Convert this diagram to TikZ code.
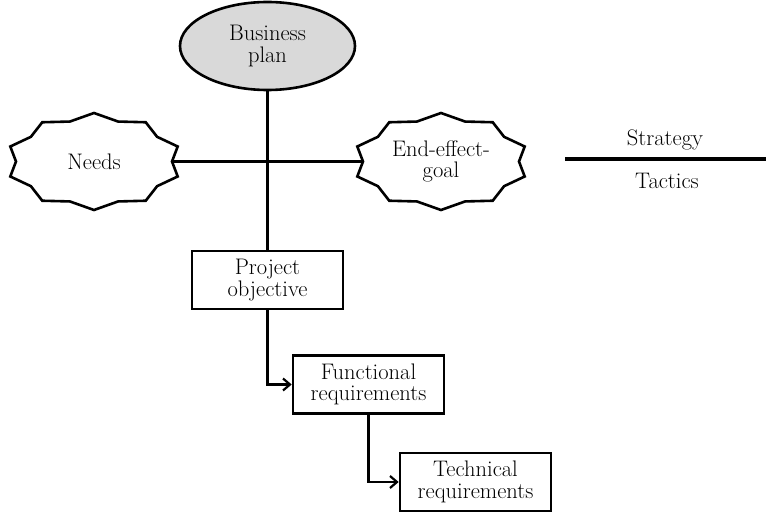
\documentclass[tikz,border=0pt]{standalone}
\usetikzlibrary{arrows.meta,calc,shapes.geometric}
\newcommand\drawburst[1]{%
  \draw[burstline] ($(#1.center)+(0,-48.5)$)
  \foreach \k in {0,...,9}{
    -- ($(#1.center)+({78*cos(108+36*\k)},{-42*sin(108+36*\k)})$)
    -- ($(#1.center)+({88*cos(126+36*\k)},{-48.5*sin(126+36*\k)})$)
  } -- cycle;}
\begin{document}
\begin{tikzpicture}[x=1pt,y=-1pt,
  every node/.style={font=\fontsize{22.5}{21.5}\selectfont, align=center, text=black},
  box/.style={draw, line width=2.6pt, minimum width=151pt, minimum height=58pt, inner sep=0pt, fill=white},
  burstnode/.style={ellipse, minimum width=156pt, minimum height=84pt, inner sep=0pt},
  burstline/.style={line width=2.6pt, line join=miter, fill=white},
  conn/.style={line width=2.2pt},
  arr/.style={conn, -{Straight Barb[length=7pt,width=12pt,line width=2.2pt]}}]
\useasboundingbox (0,0) rectangle (766,513);

\node[burstnode] (needs) at (94,161.5) {};
\node[burstnode] (eeg) at (441,161.5) {};
\node[draw, ellipse, fill=gray!30, line width=2.6pt, minimum width=175pt, minimum height=88pt, inner sep=0pt] (bp) at (267.5,46) {Business\\plan};
\node[box] (po) at (267.5,280) {Project\\objective};
\node[box] (fr) at (368.5,384.5) {Functional\\requirements};
\node[box] (tr) at (475.5,482) {Technical\\requirements};

\draw[conn] (needs.east) -- (eeg.west);
\draw[conn] (bp.south) -- (po.north);
\draw[arr] (po.south) |- (fr.west);
\draw[arr] (fr.south) |- (tr.west);

\drawburst{needs}
\drawburst{eeg}
\node at (needs.center) {Needs};
\node at (eeg.center) {End-effect-\\goal};

\coordinate (s1) at (565,159);
\coordinate (s2) at (766,159);
\draw[line width=4pt] (s1) -- (s2);
\node (strat) at (665,140) {Strategy};
\node (tact) at (667,181) {Tactics};
\end{tikzpicture}
\end{document}
